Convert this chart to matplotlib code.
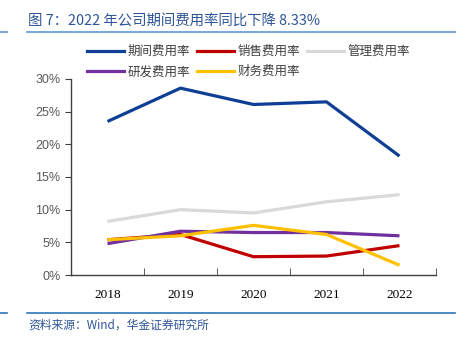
import matplotlib.pyplot as plt
from matplotlib.lines import Line2D
from matplotlib.ticker import FuncFormatter, FixedLocator

plt.rcParams["font.family"] = ["Noto Sans CJK SC", "DejaVu Sans"]

years = ["2018", "2019", "2020", "2021", "2022"]
period_rate = [23.5, 28.6, 26.1, 26.5, 18.2]
sales_rate = [5.4, 6.2, 2.8, 2.9, 4.5]
admin_rate = [8.2, 10.0, 9.5, 11.2, 12.3]
rd_rate = [4.8, 6.7, 6.5, 6.5, 6.0]
finance_rate = [5.4, 6.0, 7.6, 6.2, 1.5]

series = [
    ("期间费用率", period_rate, "#0f3f95"),
    ("销售费用率", sales_rate, "#c00000"),
    ("管理费用率", admin_rate, "#d9d9d9"),
    ("研发费用率", rd_rate, "#7030a0"),
    ("财务费用率", finance_rate, "#ffc000"),
]

fig = plt.figure(figsize=(4.59, 3.41), dpi=100)
ax = fig.add_axes([71 / 459, 1 - 275 / 341, 365 / 459, 196 / 341])

x = list(range(len(years)))
for label, values, color in series:
    ax.plot(x, values, color=color, lw=2.3, label=label, solid_capstyle="butt")

ax.set_xlim(-0.5, len(years) - 0.5)
ax.set_ylim(0, 30)
ax.set_yticks(range(0, 31, 5))
ax.yaxis.set_major_formatter(FuncFormatter(lambda v, _: f"{v:.0f}%"))
ax.tick_params(axis="y", direction="out", length=4, color="#404040",
               labelsize=9, labelcolor="#595959")
for t in ax.get_yticklabels():
    t.set_fontfamily("Liberation Sans")

# category labels centred, tick marks on the boundaries
ax.set_xticks(x)
ax.set_xticklabels(years, fontfamily="Liberation Serif", fontsize=9.5)
ax.tick_params(axis="x", which="major", length=0, pad=10)
ax.xaxis.set_minor_locator(FixedLocator([i + 0.5 for i in x]))
ax.tick_params(axis="x", which="minor", direction="in", length=5, color="#404040")

for side in ("top", "right"):
    ax.spines[side].set_visible(False)
for side in ("left", "bottom"):
    ax.spines[side].set_color("#404040")
    ax.spines[side].set_linewidth(1)

# legend fills column by column; reorder so rows read as in the series list
order = [0, 3, 1, 4, 2]
handles = [Line2D([], [], color=series[i][2], lw=2.3) for i in order]
labels = [series[i][0] for i in order]
leg = fig.legend(handles, labels, ncol=3, loc="upper left",
                 bbox_to_anchor=(76 / 459, 1 - 34 / 341), frameon=False,
                 fontsize=9, handlelength=2.9, handletextpad=0.3,
                 columnspacing=0.6, labelspacing=0.55)
for t in leg.get_texts():
    t.set_color("#404040")

title_color = "#2f5597"
fig.text(28 / 459, 1 - 21 / 341, "图 7：2022 年公司期间费用率同比下降 8.33%",
         fontsize=10.4, color=title_color, va="center")
fig.add_artist(Line2D([27 / 459, 455 / 459], [1 - 32 / 341] * 2,
                      color="#5b9bd5", lw=1.2))
fig.add_artist(Line2D([0, 7 / 459], [1 - 32 / 341] * 2, color="#5b9bd5", lw=1.2))
fig.add_artist(Line2D([27 / 459, 455 / 459], [1 - 313 / 341] * 2,
                      color="#2e75b6", lw=1.2))
fig.add_artist(Line2D([0, 7 / 459], [1 - 313 / 341] * 2, color="#2e75b6", lw=1.2))
fig.text(28 / 459, 1 - 325 / 341, "资料来源：Wind，华金证券研究所",
         fontsize=8.5, color="#2f5597", style="italic", va="center")

fig.savefig("out.png", dpi=100)
